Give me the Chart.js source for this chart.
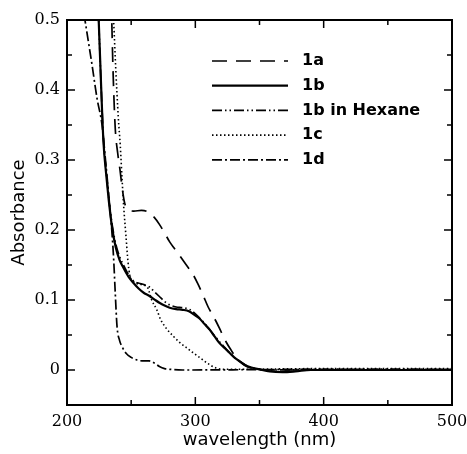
<!DOCTYPE html>
<html>
<head>
<meta charset="utf-8">
<script src="https://cdn.jsdelivr.net/npm/chart.js@4"></script>
<style>
  html, body { margin: 0; padding: 0; background: #fff; }
  #wrap { width: 467px; height: 454px; }
</style>
</head>
<body>
<div id="wrap"><canvas id="absChart" width="467" height="454"></canvas></div>
<script>
// series labels
let seriesNames = ["1a", "1b", "1b in Hexane", "1c", "1d"];

// wavelength (nm) / absorbance pairs
let wl1a = [234.5, 235, 236, 237.6, 239.5, 241.3, 243, 245, 248, 252, 258, 263, 268, 272, 276, 280, 284, 288, 293, 298, 302, 306, 310, 313, 316, 320, 324, 328, 332, 336, 340, 345, 350, 400, 450, 500];
let abs1a = [0.53, 0.49, 0.42, 0.345, 0.31, 0.286, 0.26, 0.238, 0.229, 0.227, 0.228, 0.226, 0.218, 0.208, 0.196, 0.183, 0.173, 0.163, 0.15, 0.137, 0.123, 0.107, 0.09, 0.08, 0.07, 0.055, 0.04, 0.028, 0.017, 0.01, 0.005, 0.002, 0.0, 0.0, 0.0, 0.0];

let wl1b = [223.5, 224.7, 226.5, 228.4, 230.5, 232.5, 235, 238, 241, 244, 248, 252, 256, 260, 264, 268, 272, 276, 280, 285, 290, 295, 299, 303, 307, 311, 315, 319, 323, 327, 331, 335, 339, 343, 350, 358, 368, 378, 390, 450, 500];
let abs1b = [0.555, 0.5, 0.41, 0.326, 0.28, 0.243, 0.205, 0.175, 0.157, 0.146, 0.133, 0.124, 0.116, 0.11, 0.106, 0.101, 0.096, 0.092, 0.089, 0.087, 0.086, 0.084, 0.079, 0.074, 0.066, 0.058, 0.048, 0.038, 0.031, 0.024, 0.017, 0.012, 0.007, 0.004, 0.001, -0.002, -0.003, -0.002, 0.0, 0.0, 0.0];

let wlHex = [223.5, 224.7, 226.5, 228.4, 230.5, 232.5, 235, 238, 241, 244, 248, 252, 256, 260, 264, 268, 272, 276, 280, 285, 290, 295, 299, 303, 307, 311, 315, 319, 323, 327, 331, 335, 339, 343, 350, 360, 400, 450, 500];
let absHex = [0.555, 0.5, 0.41, 0.33, 0.285, 0.247, 0.21, 0.18, 0.162, 0.15, 0.136, 0.127, 0.124, 0.122, 0.119, 0.112, 0.105, 0.098, 0.093, 0.09, 0.089, 0.087, 0.082, 0.075, 0.067, 0.058, 0.049, 0.04, 0.032, 0.024, 0.017, 0.012, 0.007, 0.004, 0.001, 0.0, 0.001, 0.001, 0.001];

let wl1c = [235.5, 236.4, 238, 240, 241.5, 243, 244.2, 246, 247.5, 249, 252, 258, 263, 266, 270, 273, 278, 283, 288, 293, 298, 304, 310, 316, 325, 400, 450, 500];
let abs1c = [0.53, 0.497, 0.43, 0.36, 0.321, 0.27, 0.233, 0.19, 0.155, 0.135, 0.126, 0.122, 0.117, 0.1, 0.086, 0.072, 0.058, 0.048, 0.039, 0.032, 0.025, 0.017, 0.009, 0.003, 0.001, 0.002, 0.002, 0.002];

let wl1d = [209, 214, 219.5, 223.4, 227.3, 230, 233, 235, 236.4, 237.6, 239, 241, 243, 246, 250, 255, 260, 264, 268, 272, 276, 280, 290, 400, 500];
let abs1d = [0.56, 0.5, 0.436, 0.388, 0.35, 0.3, 0.24, 0.197, 0.157, 0.11, 0.062, 0.042, 0.033, 0.024, 0.018, 0.014, 0.013, 0.013, 0.01, 0.005, 0.002, 0.001, 0.0, 0.001, 0.001];

// axis ranges
let xMin = 200, xMax = 500, xStep = 50;
let yMin = -0.05, yMax = 0.5, yStep = 0.05;

function toPoints(xs, ys) {
    return xs.map((x, i) => ({ x: x, y: ys[i] }));
}

let lineStyles = [
    { dash: [15, 9], width: 1.7 },
    { dash: [], width: 2.2 },
    { dash: [10, 3, 1.5, 3, 1.5, 3], width: 1.7 },
    { dash: [1.5, 2.5], width: 1.6 },
    { dash: [10, 3, 2, 3], width: 1.7 }
];

let allPoints = [
    toPoints(wl1a, abs1a),
    toPoints(wl1b, abs1b),
    toPoints(wlHex, absHex),
    toPoints(wl1c, abs1c),
    toPoints(wl1d, abs1d)
];

// frame + inward ticks on all four sides
const framePlugin = {
    id: "frame",
    afterDraw(chart) {
        let ctx = chart.ctx;
        let a = chart.chartArea;
        let xs = chart.scales.x, ys = chart.scales.y;
        ctx.save();
        ctx.strokeStyle = "#000";
        ctx.lineWidth = 2;
        ctx.strokeRect(a.left, a.top, a.right - a.left, a.bottom - a.top);
        ctx.lineWidth = 1.5;
        ctx.beginPath();
        xs.ticks.forEach(t => {
            let px = xs.getPixelForValue(t.value);
            let len = (Math.round(t.value) % 100 === 0) ? 8 : 5;
            ctx.moveTo(px, a.bottom); ctx.lineTo(px, a.bottom - len);
            ctx.moveTo(px, a.top); ctx.lineTo(px, a.top + len);
        });
        ys.ticks.forEach(t => {
            let py = ys.getPixelForValue(t.value);
            let len = (Math.round(t.value * 100) % 10 === 0) ? 8 : 5;
            ctx.moveTo(a.left, py); ctx.lineTo(a.left + len, py);
            ctx.moveTo(a.right, py); ctx.lineTo(a.right - len, py);
        });
        ctx.stroke();
        ctx.restore();
    }
};

// legend drawn inside the plot, top right
const insideLegend = {
    id: "insideLegend",
    afterDraw(chart) {
        let ctx = chart.ctx;
        let a = chart.chartArea;
        let x0 = a.left + 145, x1 = a.left + 221, tx = a.left + 235;
        ctx.save();
        ctx.font = "bold 16px 'DejaVu Sans'";
        ctx.textBaseline = "middle";
        ctx.fillStyle = "#000";
        chart.data.datasets.forEach((ds, i) => {
            let y = a.top + 41 + i * 24.7;
            ctx.strokeStyle = "#000";
            ctx.lineWidth = ds.borderWidth;
            ctx.setLineDash(ds.borderDash);
            ctx.beginPath();
            ctx.moveTo(x0, y);
            ctx.lineTo(x1, y);
            ctx.stroke();
            ctx.setLineDash([]);
            ctx.fillText(ds.label, tx, y);
        });
        ctx.restore();
    }
};

let datasets = seriesNames.map((name, i) => ({
    label: name,
    data: allPoints[i],
    borderColor: "#000",
    borderWidth: lineStyles[i].width,
    borderDash: lineStyles[i].dash,
    pointRadius: 0,
    fill: false,
    cubicInterpolationMode: "monotone"
}));

let ctx1 = document.getElementById("absChart").getContext("2d");
new Chart(ctx1, {
    type: "line",
    data: { datasets: datasets },
    options: {
        responsive: false,
        animation: false,
        layout: { padding: { top: 20, right: 15, left: 0, bottom: 0 } },
        plugins: { legend: { display: false }, tooltip: { enabled: false } },
        scales: {
            x: {
                type: "linear",
                min: xMin, max: xMax,
                grid: { display: false, drawTicks: false },
                border: { display: false },
                ticks: {
                    stepSize: xStep,
                    autoSkip: false,
                    maxRotation: 0,
                    padding: 7,
                    color: "#000",
                    font: { family: "DejaVu Serif", size: 16 },
                    callback: v => (Math.round(v) % 100 === 0 ? String(v) : "")
                },
                title: {
                    display: true,
                    text: "wavelength (nm)",
                    color: "#000",
                    font: { family: "DejaVu Sans", size: 18 },
                    padding: { top: 0, bottom: 3 }
                },
                afterFit: s => { s.height = 49; s.paddingLeft = 0; s.paddingRight = 0; }
            },
            y: {
                min: yMin, max: yMax,
                grid: { display: false, drawTicks: false },
                border: { display: false },
                ticks: {
                    stepSize: yStep,
                    autoSkip: false,
                    padding: 7,
                    color: "#000",
                    font: { family: "DejaVu Serif", size: 16 },
                    callback: v => {
                        let r = Math.round(v * 100);
                        if (r < 0 || r % 10 !== 0) return "";
                        return r === 0 ? "0" : (r / 100).toFixed(1);
                    }
                },
                title: {
                    display: true,
                    text: "Absorbance",
                    color: "#000",
                    font: { family: "DejaVu Sans", size: 18 },
                    padding: { top: 9, bottom: 0 }
                },
                afterFit: s => { s.width = 67; s.paddingTop = 0; s.paddingBottom = 0; }
            }
        }
    },
    plugins: [framePlugin, insideLegend]
});
</script>
</body>
</html>
